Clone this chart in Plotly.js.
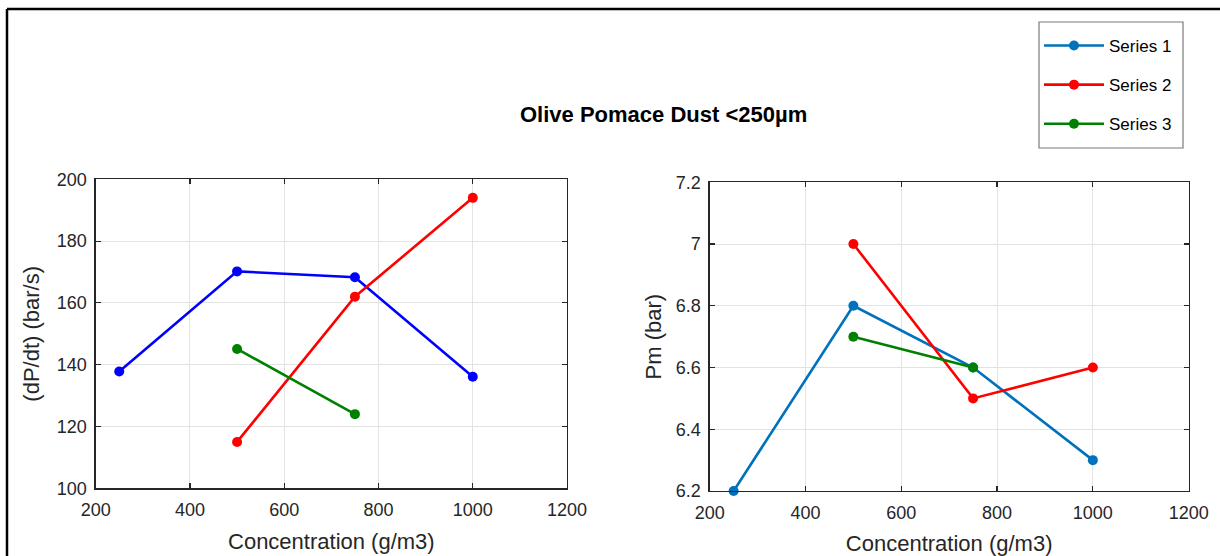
<!DOCTYPE html>
<html>
<head>
<meta charset="utf-8">
<script src="https://cdn.plot.ly/plotly-3.0.1.min.js"></script>
<style>html,body{margin:0;padding:0;background:#fff;}#chart{width:1220px;height:556px;}</style>
</head>
<body>
<div id="chart"></div>
<script>
// ---- data ----
var seriesNames = ["Series 1", "Series 2", "Series 3"];
var conc1 = [250, 500, 750, 1000];
var conc2 = [500, 750, 1000];
var conc3 = [500, 750];
var rate1 = [137.8, 170.2, 168.3, 136.1];
var rate2 = [115, 162, 194];
var rate3 = [145.1, 124];
var pm1 = [6.2, 6.8, 6.6, 6.3];
var pm2 = [7.0, 6.5, 6.6];
var pm3 = [6.7, 6.6];
var xTicks = [200, 400, 600, 800, 1000, 1200];
var rateTicks = [100, 120, 140, 160, 180, 200];
var pmTicks = [6.2, 6.4, 6.6, 6.8, 7, 7.2];
var titleText = "Olive Pomace Dust <250µm";
var xTitle = "Concentration (g/m3)";
var rateTitle = "(dP/dt) (bar/s)";
var pmTitle = "Pm (bar)";

var FONT = "Liberation Sans, Arial, sans-serif";
var AX = "#262626";

function tr(x, y, name, color, xa, ya, show) {
  return {
    x: x, y: y, name: name, type: "scatter", mode: "lines+markers",
    xaxis: xa, yaxis: ya, showlegend: show, legendgroup: name,
    line: {color: color, width: 2.6},
    marker: {color: color, size: 10},
    cliponaxis: false
  };
}

var data = [
  tr(conc1, rate1, seriesNames[0], "#0000FF", "x", "y", false),
  tr(conc2, rate2, seriesNames[1], "#FF0000", "x", "y", false),
  tr(conc3, rate3, seriesNames[2], "#008000", "x", "y", false),
  tr(conc1, pm1, seriesNames[0], "#0072BD", "x2", "y2", true),
  tr(conc2, pm2, seriesNames[1], "#FF0000", "x2", "y2", true),
  tr(conc3, pm3, seriesNames[2], "#008000", "x2", "y2", true)
];

function xaxis(domain, anchor) {
  return {
    domain: domain, anchor: anchor, range: [200, 1200],
    tickvals: xTicks, ticktext: xTicks.map(String),
    ticks: "inside", ticklen: 5, tickwidth: 1.2, tickcolor: AX,
    showline: true, linecolor: AX, linewidth: 1.3, mirror: "ticks",
    showgrid: true, gridcolor: "#e3e3e3", gridwidth: 1, zeroline: false,
    tickfont: {family: FONT, size: 18, color: AX}, ticklabelstandoff: 5,
    title: {text: xTitle, font: {family: FONT, size: 22, color: AX}, standoff: 14}
  };
}
function yaxis(domain, anchor, range, ticks, title, standoff) {
  return {
    domain: domain, anchor: anchor, range: range,
    tickvals: ticks, ticktext: ticks.map(String),
    ticks: "inside", ticklen: 5, tickwidth: 1.2, tickcolor: AX,
    showline: true, linecolor: AX, linewidth: 1.3, mirror: "ticks",
    showgrid: true, gridcolor: "#e3e3e3", gridwidth: 1, zeroline: false,
    tickfont: {family: FONT, size: 18, color: AX}, ticklabelstandoff: 4,
    title: {text: title, font: {family: FONT, size: 22, color: AX}, standoff: standoff}
  };
}

var layout = {
  width: 1220, height: 556,
  margin: {l: 0, r: 0, t: 0, b: 0},
  paper_bgcolor: "#fff", plot_bgcolor: "#fff",
  showlegend: true,
  xaxis: xaxis([0.0784, 0.4648], "y"),
  yaxis: yaxis([0.1218, 0.6775], "x", [100, 200], rateTicks, rateTitle, 11),
  xaxis2: xaxis([0.5817, 0.9743], "y2"),
  yaxis2: yaxis([0.1169, 0.6721], "x2", [6.2, 7.2], pmTicks, pmTitle, 8),
  legend: {
    x: 1039 / 1220, y: 1 - 28 / 556, xanchor: "left", yanchor: "top",
    borderwidth: 0, bgcolor: "rgba(0,0,0,0)",
    font: {family: FONT, size: 17, color: "#000"},
    traceorder: "grouped", tracegroupgap: 14, itemwidth: 60
  },
  annotations: [{
    text: "<b>" + titleText.replace("<", "&lt;") + "</b>",
    xref: "paper", yref: "paper", x: 663 / 1220, y: 1 - 114 / 556,
    xanchor: "center", yanchor: "middle", showarrow: false,
    font: {family: FONT, size: 22, color: "#000"}
  }],
  shapes: [
    {type: "line", xref: "paper", yref: "paper", x0: 7 / 1220, x1: 1.01, y0: 1 - 9 / 556, y1: 1 - 9 / 556, line: {color: "#000", width: 2.5}},
    {type: "line", xref: "paper", yref: "paper", x0: 7 / 1220, x1: 7 / 1220, y0: 1 - 9 / 556, y1: -0.01, line: {color: "#000", width: 2.5}},
    {type: "rect", xref: "paper", yref: "paper", x0: 1039 / 1220, x1: 1183 / 1220, y0: 1 - 148 / 556, y1: 1 - 22 / 556, line: {color: "#7a7a7a", width: 1.2}, fillcolor: "rgba(0,0,0,0)", layer: "above"}
  ]
};

Plotly.newPlot("chart", data, layout, {displayModeBar: false, staticPlot: true});
</script>
</body>
</html>
